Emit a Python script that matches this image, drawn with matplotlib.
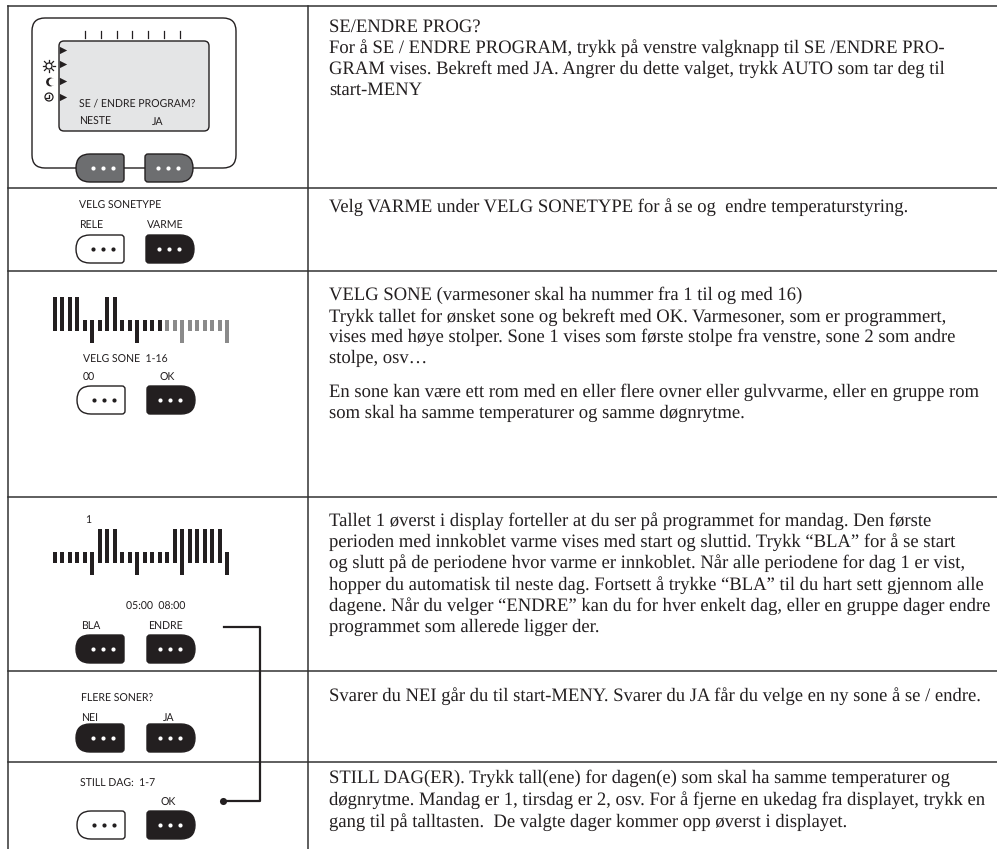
import matplotlib
matplotlib.use('Agg')
import matplotlib.pyplot as plt
from matplotlib.path import Path
from matplotlib.patches import PathPatch, FancyBboxPatch, Circle

plt.rcParams['text.hinting'] = 'none'

# Tekst i hoyre kolonne
rad1 = ['SE/ENDRE PROG?',
        'For å SE / ENDRE PROGRAM, trykk på venstre valgknapp til SE /ENDRE PRO-',
        'GRAM vises. Bekreft med JA. Angrer du dette valget, trykk AUTO som tar deg til',
        'start-MENY']
rad2 = ['Velg VARME under VELG SONETYPE for å se og  endre temperaturstyring.']
rad3 = ['VELG SONE (varmesoner skal ha nummer fra 1 til og med 16)',
        'Trykk tallet for ønsket sone og bekreft med OK. Varmesoner, som er programmert,',
        'vises med høye stolper. Sone 1 vises som første stolpe fra venstre, sone 2 som andre',
        'stolpe, osv…']
rad3b = ['En sone kan være ett rom med en eller flere ovner eller gulvvarme, eller en gruppe rom',
         'som skal ha samme temperaturer og samme døgnrytme.']
rad4 = ['Tallet 1 øverst i display forteller at du ser på programmet for mandag. Den første',
        'perioden med innkoblet varme vises med start og sluttid. Trykk “BLA” for å se start',
        'og slutt på de periodene hvor varme er innkoblet. Når alle periodene for dag 1 er vist,',
        'hopper du automatisk til neste dag. Fortsett å trykke “BLA” til du hart sett gjennom alle',
        'dagene. Når du velger “ENDRE” kan du for hver enkelt dag, eller en gruppe dager endre',
        'programmet som allerede ligger der.']
rad5 = ['Svarer du NEI går du til start-MENY. Svarer du JA får du velge en ny sone å se / endre.']
rad6 = ['STILL DAG(ER). Trykk tall(ene) for dagen(e) som skal ha samme temperaturer og',
        'døgnrytme. Mandag er 1, tirsdag er 2, osv. For å fjerne en ukedag fra displayet, trykk en',
        'gang til på talltasten.  De valgte dager kommer opp øverst i displayet.']

# Stolper: 1 = hoy, 0 = lav
sone_hoy = [1,1,1,1,0,0,0,1,1,0,0,0,0,0,0,0,0,0,0,0,0,0,0,0]
sone_graa = [0]*15 + [1]*9
dag_hoy = [0,0,0,0,0,0,1,1,1,0,0,0,0,0,0,0,1,1,1,1,1,1,1,0]
lang_stolpe = [5, 11, 17, 23]

rad_linjer = [6, 188, 271, 497, 671, 762]

fig = plt.figure(figsize=(9.97, 8.49), dpi=100)
ax = fig.add_axes([0, 0, 1, 1])
ax.set_xlim(0, 997)
ax.set_ylim(849, 0)
ax.axis('off')

MORK = '#231f20'

# Rutenett
for y in rad_linjer:
    ax.plot([8, 997], [y, y], color='#333333', lw=1.1)
ax.plot([8, 8], [6, 849], color='#333333', lw=1.1)
ax.plot([308, 308], [6, 849], color='#333333', lw=1.1)


def tekst(linjer, ys):
    for s, y in zip(linjer, ys):
        ax.text(329, y, s, family='Liberation Serif', fontsize=13.45, color=MORK, va='baseline')


tekst(rad1, [32, 53, 74, 95])
tekst(rad2, [212])
tekst(rad3, [300, 322, 342, 363])
tekst(rad3b, [397, 418])
tekst(rad4, [526, 547, 568, 590, 611, 632])
tekst(rad5, [701])
tekst(rad6, [783, 805, 827])


def etikett(x, y, s):
    ax.text(x, y, s, family='Lato', fontsize=7.6, color=MORK, va='baseline')


def knapp(x0, y0, venstre, fyll):
    # venstre=True: rund mot venstre, ellers speilvendt
    b, h, r, k = 48, 28, 14, 3
    v = [(r, 0), (b-k, 0), (b, 0), (b, k), (b, h-k), (b, h), (b-k, h),
         (r, h), (0, h), (0, h/2), (0, 0), (r, 0), (r, 0)]
    koder = [Path.MOVETO, Path.LINETO, Path.CURVE3, Path.CURVE3, Path.LINETO, Path.CURVE3, Path.CURVE3,
             Path.LINETO, Path.CURVE3, Path.CURVE3, Path.CURVE3, Path.CURVE3, Path.CLOSEPOLY]
    if venstre:
        pkt = [(x0+x, y0+y) for x, y in v]
    else:
        pkt = [(x0+b-x, y0+y) for x, y in v]
    ax.add_patch(PathPatch(Path(pkt, koder), facecolor=fyll, edgecolor=MORK, lw=1.0, zorder=3))
    prikk = MORK if fyll == 'white' else 'white'
    sx = x0 + (27 if venstre else 23)
    ax.scatter([sx-10, sx, sx+10], [y0+h/2]*3, s=9, color=prikk, zorder=4, linewidths=0)


def stolper(hoy, y_topp, y_lav, y_bunn, y_lang, graa=None):
    xs = [55 + 7.48*i for i in range(24)]
    for i, x in enumerate(xs):
        topp = y_topp if hoy[i] else y_lav
        bunn = y_lang if i in lang_stolpe else y_bunn
        farge = '#8a8a8a' if graa and graa[i] else MORK
        ax.bar(x, bunn-topp, bottom=topp, width=4.0, color=farge)


# Display rad 1
ax.add_patch(FancyBboxPatch((32, 18), 204, 150, boxstyle='round,pad=0,rounding_size=13',
                            facecolor='white', edgecolor=MORK, lw=1.0))
ax.add_patch(FancyBboxPatch((59, 41), 150, 90, boxstyle='round,pad=0,rounding_size=5',
                            facecolor='#e4e5e6', edgecolor=MORK, lw=1.0))
for x in [85, 101, 117, 132, 148, 164, 180]:
    ax.plot([x, x], [31, 38], color=MORK, lw=0.9)
for y in [50, 64, 81, 97]:
    ax.scatter([62.5], [y], marker='>', s=28, color=MORK, linewidths=0, zorder=3)

# sol, mane og klokke
ax.add_patch(Circle((49, 66), 3, facecolor='white', edgecolor=MORK, lw=0.9))
for dx, dy in [(6.3, 0), (-6.3, 0), (0, 6.3), (0, -6.3), (4.5, 4.5), (-4.5, 4.5), (4.5, -4.5), (-4.5, -4.5)]:
    ax.plot([49+dx*0.6, 49+dx], [66+dy*0.6, 66+dy], color=MORK, lw=0.9)
ax.add_patch(Circle((50.5, 82), 4.4, facecolor=MORK, edgecolor='none'))
ax.add_patch(Circle((52.5, 82), 3.8, facecolor='white', edgecolor='none'))
ax.add_patch(Circle((49, 97), 4, facecolor='white', edgecolor=MORK, lw=0.9))
ax.plot([49, 49, 46], [94.5, 97.5, 97.5], color=MORK, lw=0.9)

etikett(79, 106, 'SE / ENDRE PROGRAM?')
etikett(79, 125, 'NESTE')
etikett(152, 125, 'JA')
knapp(76, 154, True, '#6d6e70')
knapp(145, 154, False, '#6d6e70')

# Rad 2
etikett(79, 209, 'VELG SONETYPE')
etikett(79, 228, 'RELE')
etikett(147, 228, 'VARME')
knapp(76, 235, True, 'white')
knapp(146, 235, False, MORK)

# Rad 3
stolper(sone_hoy, 297, 320, 331, 343, sone_graa)
etikett(83, 363, 'VELG SONE  1-16')
etikett(83, 381, '00')
etikett(159, 381, 'OK')
knapp(77, 386, True, 'white')
knapp(147, 386, False, MORK)

# Rad 4
etikett(85, 523, '1')
stolper(dag_hoy, 529, 552, 563, 575)
etikett(126, 610, '05:00  08:00')
etikett(81, 629, 'BLA')
etikett(148, 629, 'ENDRE')
knapp(76, 635, True, MORK)
knapp(147, 635, False, MORK)

# Rad 5
etikett(81, 702, 'FLERE SONER?')
etikett(81, 721, 'NEI')
etikett(163, 721, 'JA')
knapp(76, 724, True, MORK)
knapp(147, 724, False, MORK)

# Rad 6
etikett(80, 787, 'STILL DAG:  1-7')
etikett(160, 806, 'OK')
knapp(77, 811, True, 'white')
knapp(147, 811, False, MORK)

# Forbindelseslinje fra ENDRE til OK
ax.plot([224, 260, 260, 223], [627, 627, 801, 801], color=MORK, lw=1.6, zorder=5)
ax.scatter([223], [801], s=26, color=MORK, zorder=5, linewidths=0)

fig.savefig('out.png', dpi=100)
